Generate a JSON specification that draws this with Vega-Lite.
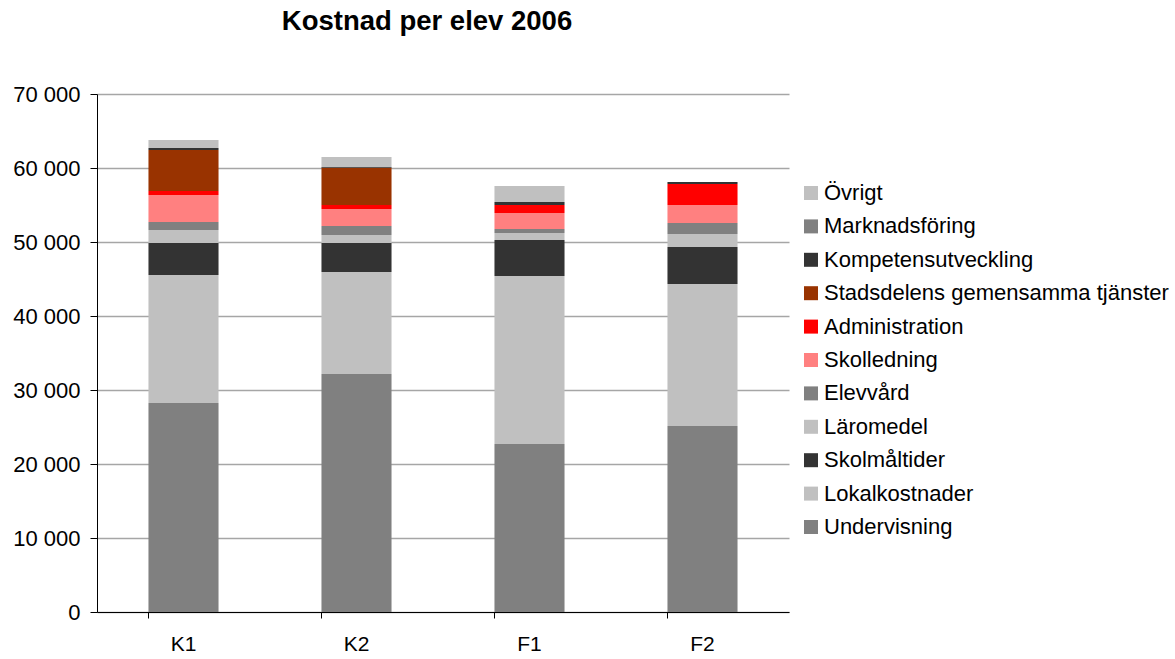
{
  "$schema": "https://vega.github.io/schema/vega-lite/v6.json",
  "width": 692,
  "height": 518,
  "autosize": {"type": "none"},
  "padding": {"left": 97, "top": 94, "right": 386, "bottom": 47},
  "background": "white",
  "config": {
    "font": "Liberation Sans",
    "view": {"stroke": null},
    "axis": {"labelFont": "Liberation Sans", "labelColor": "black"}
  },
  "title": {
    "text": "Kostnad per elev 2006",
    "fontSize": 27.5,
    "fontWeight": "bold",
    "font": "Liberation Sans",
    "color": "black",
    "anchor": "middle",
    "offset": 48,
    "dx": -16
  },
  "data": {
    "values": [
      {"skola": "K1", "kategori": "Undervisning", "kostnad": 28240},
      {"skola": "K1", "kategori": "Lokalkostnader", "kostnad": 17300},
      {"skola": "K1", "kategori": "Skolmåltider", "kostnad": 4320},
      {"skola": "K1", "kategori": "Läromedel", "kostnad": 1760},
      {"skola": "K1", "kategori": "Elevvård", "kostnad": 1080},
      {"skola": "K1", "kategori": "Skolledning", "kostnad": 3650},
      {"skola": "K1", "kategori": "Administration", "kostnad": 540},
      {"skola": "K1", "kategori": "Stadsdelens gemensamma tjänster", "kostnad": 5540},
      {"skola": "K1", "kategori": "Kompetensutveckling", "kostnad": 270},
      {"skola": "K1", "kategori": "Marknadsföring", "kostnad": 0},
      {"skola": "K1", "kategori": "Övrigt", "kostnad": 1080},
      {"skola": "K2", "kategori": "Undervisning", "kostnad": 32160},
      {"skola": "K2", "kategori": "Lokalkostnader", "kostnad": 13790},
      {"skola": "K2", "kategori": "Skolmåltider", "kostnad": 3920},
      {"skola": "K2", "kategori": "Läromedel", "kostnad": 1080},
      {"skola": "K2", "kategori": "Elevvård", "kostnad": 1220},
      {"skola": "K2", "kategori": "Skolledning", "kostnad": 2300},
      {"skola": "K2", "kategori": "Administration", "kostnad": 540},
      {"skola": "K2", "kategori": "Stadsdelens gemensamma tjänster", "kostnad": 5040},
      {"skola": "K2", "kategori": "Kompetensutveckling", "kostnad": 100},
      {"skola": "K2", "kategori": "Marknadsföring", "kostnad": 0},
      {"skola": "K2", "kategori": "Övrigt", "kostnad": 1350},
      {"skola": "F1", "kategori": "Undervisning", "kostnad": 22700},
      {"skola": "F1", "kategori": "Lokalkostnader", "kostnad": 22700},
      {"skola": "F1", "kategori": "Skolmåltider", "kostnad": 4870},
      {"skola": "F1", "kategori": "Läromedel", "kostnad": 950},
      {"skola": "F1", "kategori": "Elevvård", "kostnad": 540},
      {"skola": "F1", "kategori": "Skolledning", "kostnad": 2160},
      {"skola": "F1", "kategori": "Administration", "kostnad": 1080},
      {"skola": "F1", "kategori": "Stadsdelens gemensamma tjänster", "kostnad": 0},
      {"skola": "F1", "kategori": "Kompetensutveckling", "kostnad": 400},
      {"skola": "F1", "kategori": "Marknadsföring", "kostnad": 0},
      {"skola": "F1", "kategori": "Övrigt", "kostnad": 2160},
      {"skola": "F2", "kategori": "Undervisning", "kostnad": 25140},
      {"skola": "F2", "kategori": "Lokalkostnader", "kostnad": 19190},
      {"skola": "F2", "kategori": "Skolmåltider", "kostnad": 5000},
      {"skola": "F2", "kategori": "Läromedel", "kostnad": 1760},
      {"skola": "F2", "kategori": "Elevvård", "kostnad": 1490},
      {"skola": "F2", "kategori": "Skolledning", "kostnad": 2430},
      {"skola": "F2", "kategori": "Administration", "kostnad": 2840},
      {"skola": "F2", "kategori": "Stadsdelens gemensamma tjänster", "kostnad": 0},
      {"skola": "F2", "kategori": "Kompetensutveckling", "kostnad": 270},
      {"skola": "F2", "kategori": "Marknadsföring", "kostnad": 0},
      {"skola": "F2", "kategori": "Övrigt", "kostnad": 0}
    ]
  },
  "transform": [
    {"calculate": "indexof(['Övrigt','Marknadsföring','Kompetensutveckling','Stadsdelens gemensamma tjänster','Administration','Skolledning','Elevvård','Läromedel','Skolmåltider','Lokalkostnader','Undervisning'], datum.kategori)", "as": "ordning"}
  ],
  "mark": {"type": "bar"},
  "encoding": {
    "x": {
      "field": "skola",
      "type": "nominal",
      "sort": ["K1", "K2", "F1", "F2"],
      "title": null,
      "scale": {"paddingInner": 0.595, "paddingOuter": 0.2975},
      "axis": {
        "labelAngle": 0,
        "labelFontSize": 21,
        "labelPadding": 15,
        "tickSize": 6,
        "tickColor": "black",
        "domainColor": "black",
        "bandPosition": 0,
        "grid": false
      }
    },
    "y": {
      "field": "kostnad",
      "type": "quantitative",
      "aggregate": "sum",
      "stack": "zero",
      "title": null,
      "scale": {"domain": [0, 70000], "nice": false},
      "axis": {
        "values": [0, 10000, 20000, 30000, 40000, 50000, 60000, 70000],
        "labelExpr": "replace(format(datum.value, ','), ',', ' ')",
        "labelFontSize": 22,
        "labelPadding": 10,
        "tickSize": 7,
        "tickColor": "black",
        "domainColor": "black",
        "gridColor": "#a6a6a6",
        "gridWidth": 1.3
      }
    },
    "color": {
      "field": "kategori",
      "type": "nominal",
      "title": null,
      "scale": {
        "domain": ["Övrigt", "Marknadsföring", "Kompetensutveckling", "Stadsdelens gemensamma tjänster", "Administration", "Skolledning", "Elevvård", "Läromedel", "Skolmåltider", "Lokalkostnader", "Undervisning"],
        "range": ["#c0c0c0", "#808080", "#333333", "#993300", "#ff0000", "#ff8080", "#808080", "#c0c0c0", "#333333", "#c0c0c0", "#808080"]
      },
      "legend": {
        "orient": "none",
        "legendX": 703,
        "legendY": 88,
        "symbolType": "square",
        "symbolSize": 196,
        "symbolStrokeWidth": 0,
        "labelFontSize": 22,
        "labelFont": "Liberation Sans",
        "labelColor": "black",
        "labelLimit": 400,
        "labelOffset": 2,
        "rowPadding": 11.4
      }
    },
    "order": {"field": "ordning", "type": "quantitative", "sort": "descending"}
  }
}
